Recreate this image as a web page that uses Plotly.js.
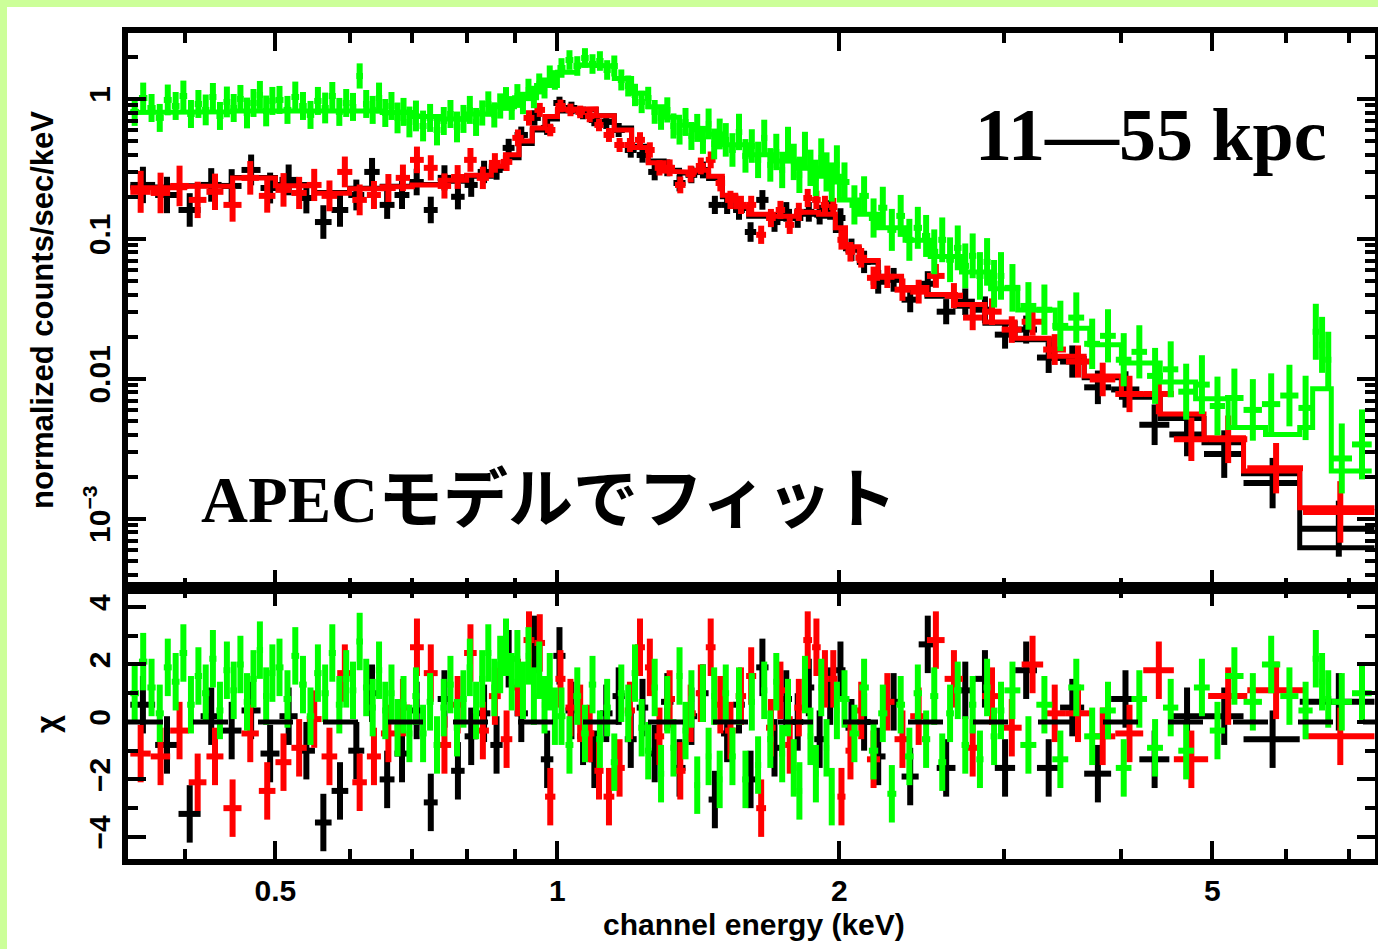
<!DOCTYPE html>
<html>
<head>
<meta charset="utf-8">
<script src="https://cdn.plot.ly/plotly-3.0.1.min.js"></script>
<style>
html,body{margin:0;padding:0;background:#ccff99;width:1378px;height:949px;overflow:hidden;}
#plot{position:absolute;left:7px;top:7px;width:1371px;height:942px;background:#fff;}
</style>
</head>
<body>
<div id="plot"></div>
<script>
// ---------------- DATA ----------------
// Each data set: bin edges (keV), flux (counts/s/keV), error half-width in dex (log10 units), chi residual
const blackEdges = [0.350,0.372,0.394,0.416,0.438,0.460,0.482,0.505,0.528,0.551,0.574,0.598,0.622,0.646,0.670,0.695,0.720,0.745,0.770,0.796,0.822,0.848,0.874,0.900,0.930,0.960,0.990,1.020,1.050,1.080,1.110,1.145,1.180,1.215,1.250,1.290,1.330,1.370,1.410,1.450,1.495,1.540,1.585,1.630,1.680,1.730,1.780,1.830,1.880,1.930,1.980,2.030,2.09,2.16,2.24,2.33,2.43,2.54,2.66,2.79,2.93,3.08,3.25,3.44,3.65,3.90,4.18,4.50,4.90,5.40,6.20,7.45];
const blackFlux = [0.243,0.206,0.161,0.243,0.239,0.311,0.231,0.264,0.196,0.132,0.161,0.206,0.301,0.175,0.206,0.255,0.161,0.273,0.200,0.243,0.301,0.311,0.447,0.553,0.732,0.621,0.936,0.862,0.794,0.708,0.685,0.600,0.432,0.398,0.301,0.322,0.251,0.287,0.311,0.175,0.175,0.161,0.112,0.190,0.132,0.156,0.141,0.156,0.149,0.161,0.141,0.0836,0.0685,0.0494,0.0510,0.0368,0.0478,0.0302,0.0356,0.0312,0.0207,0.0225,0.0142,0.0133,0.0087,0.0084,0.0047,0.0040,0.0029,0.0018,0.00085];
const blackLogErr = [0.13,0.13,0.12,0.12,0.12,0.11,0.11,0.11,0.11,0.12,0.12,0.11,0.10,0.10,0.10,0.095,0.095,0.09,0.09,0.085,0.08,0.07,0.065,0.06,0.055,0.05,0.045,0.045,0.045,0.045,0.05,0.05,0.055,0.055,0.06,0.06,0.06,0.06,0.06,0.065,0.065,0.07,0.07,0.07,0.07,0.07,0.07,0.07,0.07,0.07,0.07,0.08,0.08,0.085,0.085,0.09,0.09,0.09,0.095,0.095,0.1,0.1,0.11,0.115,0.12,0.13,0.145,0.155,0.17,0.18,0.2];
const blackChi = [0.6,-0.8,-3.2,0.2,-0.3,0.4,-1.1,0.2,-1.0,-3.5,-2.4,-1.0,1.0,-2.0,-1.1,0.4,-2.8,0.8,-1.7,-0.5,0.3,-0.8,2.2,0.3,2.7,-1.3,2.3,0.4,-0.5,-1.3,0.3,0.9,-0.6,0.5,-1.1,0.7,-1.6,0.2,1.0,-2.7,-0.4,0.6,-2.0,1.9,-0.9,0.8,0.0,1.2,-0.6,0.9,1.8,-0.2,0.0,-1.2,0.7,-1.9,2.7,-1.6,1.1,1.5,-1.6,1.8,-1.6,0.5,-1.8,0.8,-1.3,0.2,0.2,-0.6,0.7];

const redEdges = [0.350,0.368,0.386,0.404,0.422,0.440,0.460,0.480,0.500,0.520,0.540,0.560,0.582,0.604,0.626,0.648,0.672,0.696,0.720,0.745,0.770,0.795,0.820,0.845,0.870,0.895,0.920,0.945,0.970,0.995,1.020,1.045,1.070,1.095,1.120,1.150,1.180,1.210,1.240,1.270,1.300,1.335,1.370,1.405,1.440,1.475,1.510,1.550,1.590,1.630,1.670,1.710,1.750,1.790,1.830,1.870,1.910,1.950,1.990,2.030,2.08,2.14,2.21,2.29,2.38,2.48,2.59,2.71,2.84,2.98,3.13,3.30,3.49,3.70,3.94,4.22,4.55,4.95,5.45,6.25,7.45];
const redFlux = [0.217,0.213,0.239,0.190,0.217,0.175,0.273,0.203,0.224,0.213,0.243,0.203,0.301,0.190,0.206,0.231,0.273,0.367,0.322,0.239,0.277,0.367,0.273,0.349,0.355,0.527,0.732,0.835,0.600,0.891,0.835,0.808,0.756,0.652,0.553,0.469,0.469,0.510,0.432,0.322,0.322,0.243,0.291,0.332,0.367,0.251,0.190,0.175,0.175,0.107,0.141,0.161,0.126,0.156,0.196,0.190,0.175,0.169,0.0985,0.0809,0.0733,0.0527,0.0536,0.0434,0.0420,0.0544,0.0393,0.0274,0.0302,0.0225,0.0256,0.0162,0.0133,0.0099,0.0078,0.0078,0.0037,0.0037,0.0023,0.00112];
const redLogErr = [0.15,0.145,0.145,0.13,0.13,0.12,0.12,0.12,0.12,0.115,0.115,0.11,0.11,0.11,0.1,0.1,0.095,0.095,0.09,0.09,0.085,0.085,0.08,0.07,0.065,0.06,0.055,0.05,0.045,0.045,0.045,0.045,0.045,0.045,0.05,0.05,0.05,0.055,0.055,0.055,0.06,0.06,0.06,0.06,0.06,0.06,0.065,0.065,0.065,0.065,0.065,0.065,0.065,0.065,0.065,0.065,0.065,0.065,0.07,0.07,0.07,0.08,0.08,0.08,0.085,0.085,0.09,0.09,0.095,0.095,0.1,0.11,0.115,0.12,0.13,0.145,0.155,0.17,0.18,0.22];
const redChi = [-1.1,-1.2,-0.3,-2.1,-1.2,-3.0,-0.4,-2.4,-1.4,-0.9,0.1,-1.2,1.7,-2.1,-1.2,-0.4,0.5,2.6,1.7,-0.8,0.6,2.4,-0.3,0.9,-0.6,1.2,2.85,2.75,-2.6,1.5,0.5,0.3,-0.4,-1.7,-2.6,-1.6,0.4,2.6,1.9,-0.5,0.8,-1.7,0.3,1.0,2.6,0.6,-0.3,0.9,1.6,-3.0,-0.2,1.1,-0.8,0.5,2.85,2.6,1.5,1.5,-2.6,-1.0,0.4,-1.3,0.7,-0.6,0.2,2.85,1.5,-0.9,0.9,-0.2,2.0,0.3,0.3,-0.5,-0.4,1.8,-1.3,0.9,1.1,-0.5];

const greenEdges = [
  0.35,0.3575,0.365,0.3725,0.38,0.3875,0.395,0.4025,0.41,0.4175,0.425,0.4325,0.44,0.4475,0.455,0.4625,0.47,0.4775,0.485,0.4925,
  0.50,0.51,0.52,0.53,0.54,0.55,0.56,0.57,0.58,0.59,0.60,0.61,0.62,0.63,0.64,0.65,0.66,0.67,0.68,0.69,
  0.70,0.7125,0.725,0.7375,0.75,0.7625,0.775,0.7875,0.80,0.8125,0.825,0.8375,0.85,0.8625,0.875,0.8875,0.90,0.9125,0.925,0.9375,0.95,0.9625,0.975,0.9875,
  1.00,1.02,1.04,1.06,1.08,1.10,1.12,1.14,1.16,1.18,1.20,1.22,1.24,1.26,1.28,1.30,1.32,1.34,1.36,1.38,1.40,1.42,1.44,1.46,1.48,
  1.50,1.525,1.55,1.575,1.60,1.625,1.65,1.675,1.70,1.725,1.75,1.775,1.80,1.825,1.85,1.875,1.90,1.925,1.95,1.975,
  2.00,2.05,2.10,2.15,2.20,2.25,2.30,2.35,2.40,2.45,2.50,2.55,2.60,2.65,2.70,2.75,2.80,2.85,2.90,2.95,
  3.00,3.12,3.245,3.375,3.51,3.65,3.795,3.945,4.10,4.26,4.43,4.60,4.78,4.97,
  5.16,5.40,5.65,5.91,6.18,6.40,6.50,6.60,6.70,7.05,7.40];
const greenFlux = [
  0.808,1.016,0.862,0.732,0.984,0.891,1.05,0.781,0.921,0.835,1.033,0.756,0.952,0.862,1.0,0.794,0.936,1.068,0.821,0.968,
  0.984,0.835,1.033,0.891,0.769,0.968,0.862,1.05,0.808,0.936,0.877,1.46,0.921,0.835,1.016,0.794,0.891,0.732,0.808,0.685,
  0.756,0.641,0.732,0.600,0.696,0.781,0.631,0.720,0.835,0.685,0.794,0.921,0.769,0.891,1.0,0.862,1.05,0.936,1.16,1.033,1.28,1.198,1.46,1.367,
  1.665,1.898,1.72,1.963,1.777,1.867,1.611,1.72,1.367,1.238,1.068,0.952,1.016,0.808,0.732,0.835,0.641,0.581,0.685,0.544,0.621,0.51,0.663,0.477,0.562,
  0.51,0.432,0.581,0.392,0.461,0.367,0.527,0.338,0.418,0.311,0.469,0.355,0.287,0.432,0.322,0.273,0.379,0.301,0.255,0.338,
  0.255,0.175,0.203,0.141,0.167,0.116,0.146,0.0985,0.12,0.105,0.0809,0.0985,0.071,0.0863,0.0642,0.0757,0.0544,0.0685,0.0478,0.0544,
  0.0447,0.0332,0.0312,0.0239,0.0274,0.0178,0.0203,0.0137,0.0156,0.0105,0.0117,0.0081,0.0091,0.0064,
  0.0073,0.0060,0.0066,0.0076,0.0062,0.0217,0.0175,0.0137,0.0027,0.0034];
const greenLogErr = [
  0.10,0.11,0.10,0.10,0.11,0.10,0.11,0.10,0.10,0.11,0.10,0.10,0.11,0.10,0.10,0.11,0.10,0.10,0.11,0.10,
  0.10,0.10,0.11,0.10,0.10,0.10,0.11,0.10,0.10,0.10,0.10,0.09,0.10,0.10,0.11,0.10,0.10,0.11,0.10,0.11,
  0.11,0.11,0.10,0.11,0.10,0.10,0.11,0.10,0.10,0.10,0.09,0.09,0.09,0.09,0.085,0.085,0.085,0.08,0.08,0.08,0.075,0.075,0.075,0.07,
  0.07,0.07,0.07,0.07,0.07,0.07,0.07,0.075,0.075,0.075,0.08,0.08,0.08,0.085,0.085,0.09,0.09,0.09,0.10,0.10,0.10,0.10,0.11,0.11,0.11,
  0.12,0.12,0.13,0.12,0.12,0.13,0.13,0.12,0.13,0.13,0.13,0.13,0.13,0.13,0.13,0.13,0.14,0.14,0.14,0.14,
  0.14,0.14,0.14,0.14,0.15,0.15,0.15,0.15,0.15,0.15,0.16,0.16,0.16,0.16,0.16,0.16,0.17,0.17,0.17,0.17,
  0.17,0.17,0.18,0.18,0.18,0.18,0.19,0.19,0.19,0.2,0.2,0.2,0.21,0.21,
  0.21,0.22,0.22,0.22,0.23,0.2,0.2,0.2,0.25,0.25];
const greenChi = [
  1.0,2.1,1.2,0.3,1.9,1.4,2.4,0.6,1.6,1.0,2.2,0.4,1.8,1.1,2.0,0.7,1.5,2.5,0.9,1.7,
  1.9,0.8,2.3,1.3,0.2,1.7,1.0,2.4,0.6,1.5,1.1,2.8,1.2,0.5,1.8,0.4,1.0,-0.2,0.6,-0.4,
  0.9,-0.4,0.7,-0.8,0.5,1.3,-0.2,0.8,1.9,0.4,1.5,2.4,1.2,2.0,2.6,1.4,2.2,1.1,2.3,0.9,1.8,0.6,1.4,0.2,
  0.2,-0.8,0.9,-0.4,1.3,-0.6,0.5,-1.4,1.0,0.3,1.7,-0.2,-1.0,1.2,-1.8,0.6,-0.9,1.6,-0.3,0.8,-2.2,1.0,-1.2,0.9,-2.0,
  1.0,-1.2,0.9,-2.0,0.7,-1.5,1.1,-0.6,1.4,-1.1,0.5,-1.6,-2.4,1.3,-0.5,-1.8,1.2,-0.9,-2.6,0.4,
  0.8,-0.4,1.2,-1.0,0.3,-2.5,0.6,-1.2,1.0,-0.6,0.9,-1.4,0.3,1.1,-0.8,0.6,-1.3,1.2,-0.5,0.4,
  1.1,-0.8,0.6,-1.3,1.2,-0.5,0.4,-1.6,0.8,-0.9,0.5,-1.0,1.2,-0.3,
  1.6,0.7,2.0,0.9,0.4,2.2,1.4,0.8,0.7,1.0];

// Model step curves
const mosModelEdges = [0.35,0.40,0.45,0.50,0.55,0.60,0.65,0.70,0.75,0.80,0.85,0.88,0.91,0.94,0.97,1.00,1.05,1.10,1.15,1.20,1.25,1.30,1.35,1.40,1.45,1.50,1.55,1.60,1.70,1.80,1.90,1.98,2.03,2.10,2.20,2.33,2.48,2.66,2.86,3.08,3.35,3.65,4.00,4.40,4.90,5.40,6.20,7.45];
const blackModel = [0.235,0.240,0.275,0.245,0.215,0.230,0.238,0.245,0.258,0.28,0.32,0.38,0.48,0.60,0.72,0.82,0.84,0.76,0.62,0.46,0.36,0.31,0.295,0.30,0.27,0.20,0.165,0.145,0.14,0.15,0.145,0.115,0.085,0.068,0.052,0.044,0.039,0.033,0.025,0.019,0.014,0.0102,0.0074,0.0052,0.0035,0.0021,0.00062];
const redModel = [0.232,0.238,0.272,0.240,0.212,0.228,0.236,0.243,0.262,0.285,0.33,0.40,0.50,0.62,0.75,0.84,0.85,0.76,0.60,0.45,0.35,0.305,0.30,0.31,0.28,0.205,0.17,0.15,0.145,0.155,0.15,0.12,0.088,0.07,0.054,0.045,0.040,0.034,0.0255,0.0195,0.0145,0.0105,0.0078,0.0056,0.0038,0.0022,0.0012];
const greenModelEdges = [0.35,0.40,0.45,0.50,0.55,0.60,0.65,0.70,0.75,0.80,0.85,0.90,0.95,1.00,1.05,1.10,1.15,1.20,1.25,1.30,1.35,1.40,1.45,1.50,1.60,1.70,1.80,1.90,2.00,2.10,2.20,2.35,2.50,2.70,2.90,3.10,3.40,3.70,4.00,4.40,4.80,5.20,5.70,6.20,6.40,6.70,7.40];
const greenModel = [0.80,0.81,0.82,0.82,0.83,0.82,0.80,0.75,0.72,0.78,0.88,1.02,1.25,1.55,1.75,1.72,1.40,1.10,0.88,0.74,0.65,0.60,0.56,0.47,0.40,0.36,0.32,0.28,0.19,0.15,0.12,0.098,0.075,0.058,0.044,0.031,0.023,0.0175,0.013,0.0095,0.0072,0.0045,0.0040,0.0045,0.0085,0.0022];

// Axis ticks
const xTickVals = [0.5, 1, 2, 5];
const xTickText = ['0.5', '1', '2', '5'];
const xMinorVals = [0.4, 0.6, 0.7, 0.8, 0.9, 3, 4, 6, 7];
const yTickVals = [0.001, 0.01, 0.1, 1];
const yTickText = ['10<sup>\u22123</sup>', '0.01', '0.1', '1'];
const yMinorVals = [0.0004,0.0005,0.0006,0.0007,0.0008,0.0009,0.002,0.003,0.004,0.005,0.006,0.007,0.008,0.009,0.02,0.03,0.04,0.05,0.06,0.07,0.08,0.09,0.2,0.3,0.4,0.5,0.6,0.7,0.8,0.9,2];
const chiTickVals = [-4, -2, 0, 2, 4];
const chiTickText = ['\u22124', '\u22122', '0', '2', '4'];
const chiMinorVals = [-3, -1, 1, 3];

// ---------------- BUILD ----------------
function binCenters(edges) {
  const c = [], h = [];
  for (let i = 0; i < edges.length - 1; i++) {
    c.push((edges[i] + edges[i + 1]) / 2);
    h.push((edges[i + 1] - edges[i]) / 2);
  }
  return [c, h];
}
function stepLine(edges, vals) {
  const x = [], y = [];
  vals.forEach((v, i) => { x.push(edges[i], edges[i + 1]); y.push(v, v); });
  return [x, y];
}
const LW = 6;
function dataTraces(edges, flux, logErr, chi, color) {
  const [c, h] = binCenters(edges);
  const up = flux.map((v, i) => v * (Math.pow(10, logErr[i]) - 1));
  const dn = flux.map((v, i) => v * (1 - Math.pow(10, -logErr[i])));
  const base = {type: 'scatter', mode: 'markers', marker: {size: 2, color: color}, hoverinfo: 'skip', showlegend: false};
  return [
    Object.assign({}, base, {x: c, y: flux, xaxis: 'x2', yaxis: 'y',
      error_x: {type: 'data', array: h, color: color, thickness: LW, width: 0},
      error_y: {type: 'data', symmetric: false, array: up, arrayminus: dn, color: color, thickness: LW, width: 0}}),
    Object.assign({}, base, {x: c, y: chi, xaxis: 'x', yaxis: 'y2',
      error_x: {type: 'data', array: h, color: color, thickness: LW, width: 0},
      error_y: {type: 'constant', value: 1, color: color, thickness: LW, width: 0}})
  ];
}
function modelTrace(edges, vals, color) {
  const [x, y] = stepLine(edges, vals);
  return {type: 'scatter', mode: 'lines', x: x, y: y, xaxis: 'x2', yaxis: 'y',
    line: {color: color, width: 5}, hoverinfo: 'skip', showlegend: false};
}

const traces = [].concat(
  dataTraces(blackEdges, blackFlux, blackLogErr, blackChi, '#000000'),
  [modelTrace(mosModelEdges, blackModel, '#000000')],
  dataTraces(redEdges, redFlux, redLogErr, redChi, '#ff0000'),
  [modelTrace(mosModelEdges, redModel, '#ff0000')],
  dataTraces(greenEdges, greenFlux, greenLogErr, greenChi, '#00ff00'),
  [modelTrace(greenModelEdges, greenModel, '#00ff00')]
);

const FONT = 'Liberation Sans, Arial, Helvetica, sans-serif';
const xRange = [Math.log10(0.348), Math.log10(7.46)];
const axisCommon = {
  ticks: 'inside', ticklen: 18, tickwidth: 4, tickcolor: '#000',
  showline: true, linewidth: 6, linecolor: '#000', mirror: 'allticks',
  showgrid: false, zeroline: false,
  tickfont: {family: FONT, size: 30, color: '#000', weight: 'bold'}
};
const minorCommon = {tickmode: 'array', ticks: 'inside', ticklen: 10, tickwidth: 4, tickcolor: '#000', showgrid: false};

const layout = {
  width: 1371, height: 942,
  margin: {l: 121, r: 3, t: 26, b: 90},
  paper_bgcolor: '#ffffff', plot_bgcolor: '#ffffff',
  showlegend: false,
  font: {family: FONT, color: '#000'},
  xaxis: Object.assign({}, axisCommon, {
    type: 'log', range: xRange, domain: [0, 1], anchor: 'y2',
    tickmode: 'array', tickvals: xTickVals, ticktext: xTickText,
    minor: Object.assign({}, minorCommon, {tickvals: xMinorVals})
  }),
  xaxis2: Object.assign({}, axisCommon, {
    type: 'log', range: xRange, domain: [0, 1], anchor: 'y', matches: 'x',
    tickmode: 'array', tickvals: xTickVals, ticktext: xTickText, showticklabels: false,
    minor: Object.assign({}, minorCommon, {tickvals: xMinorVals})
  }),
  yaxis: Object.assign({}, axisCommon, {
    type: 'log', range: [Math.log10(3.2e-4), Math.log10(2.96)], domain: [0.328, 1], anchor: 'x2',
    tickmode: 'array', tickvals: yTickVals, ticktext: yTickText, tickangle: -90,
    minor: Object.assign({}, minorCommon, {tickvals: yMinorVals})
  }),
  yaxis2: Object.assign({}, axisCommon, {
    range: [-4.77, 4.66], domain: [0, 0.328], anchor: 'x',
    tickmode: 'array', tickvals: chiTickVals, ticktext: chiTickText, tickangle: -90,
    minor: Object.assign({}, minorCommon, {tickvals: chiMinorVals})
  }),
  shapes: [{
    type: 'line', xref: 'paper', x0: 0, x1: 1, yref: 'y2', y0: 0, y1: 0,
    line: {color: '#000', width: 5, dash: '35px,30px'}, layer: 'above'
  }],
  annotations: [
    {text: '11\u201455 kpc', xref: 'paper', yref: 'paper', x: 0.8204, y: 0.8765,
     xanchor: 'center', yanchor: 'middle', showarrow: false,
     font: {family: 'Liberation Serif, Times New Roman, serif', size: 74, color: '#000', weight: 'bold'}},
    {text: 'APEC\u30e2\u30c7\u30eb\u3067\u30d5\u30a3\u30c3\u30c8', xref: 'paper', yref: 'paper', x: 0.3376, y: 0.4346,
     xanchor: 'center', yanchor: 'middle', showarrow: false,
     font: {family: 'Liberation Serif, Noto Sans CJK JP, serif', size: 65, color: '#000', weight: 'bold'}},
    {text: 'normalized counts/sec/keV', xref: 'paper', yref: 'paper', x: -0.069, y: 0.6646,
     xanchor: 'center', yanchor: 'middle', textangle: -90, showarrow: false,
     font: {family: FONT, size: 31, color: '#000', weight: 'bold'}},
    {text: '\u03c7', xref: 'paper', yref: 'paper', x: -0.065, y: 0.1634,
     xanchor: 'center', yanchor: 'middle', textangle: -90, showarrow: false,
     font: {family: FONT, size: 31, color: '#000', weight: 'bold'}},
    {text: 'channel energy (keV)', xref: 'paper', yref: 'paper', x: 0.502, y: -0.0799,
     xanchor: 'center', yanchor: 'middle', showarrow: false,
     font: {family: FONT, size: 30, color: '#000', weight: 'bold'}}
  ]
};

Plotly.newPlot('plot', traces, layout, {staticPlot: true, displayModeBar: false});
</script>
</body>
</html>
